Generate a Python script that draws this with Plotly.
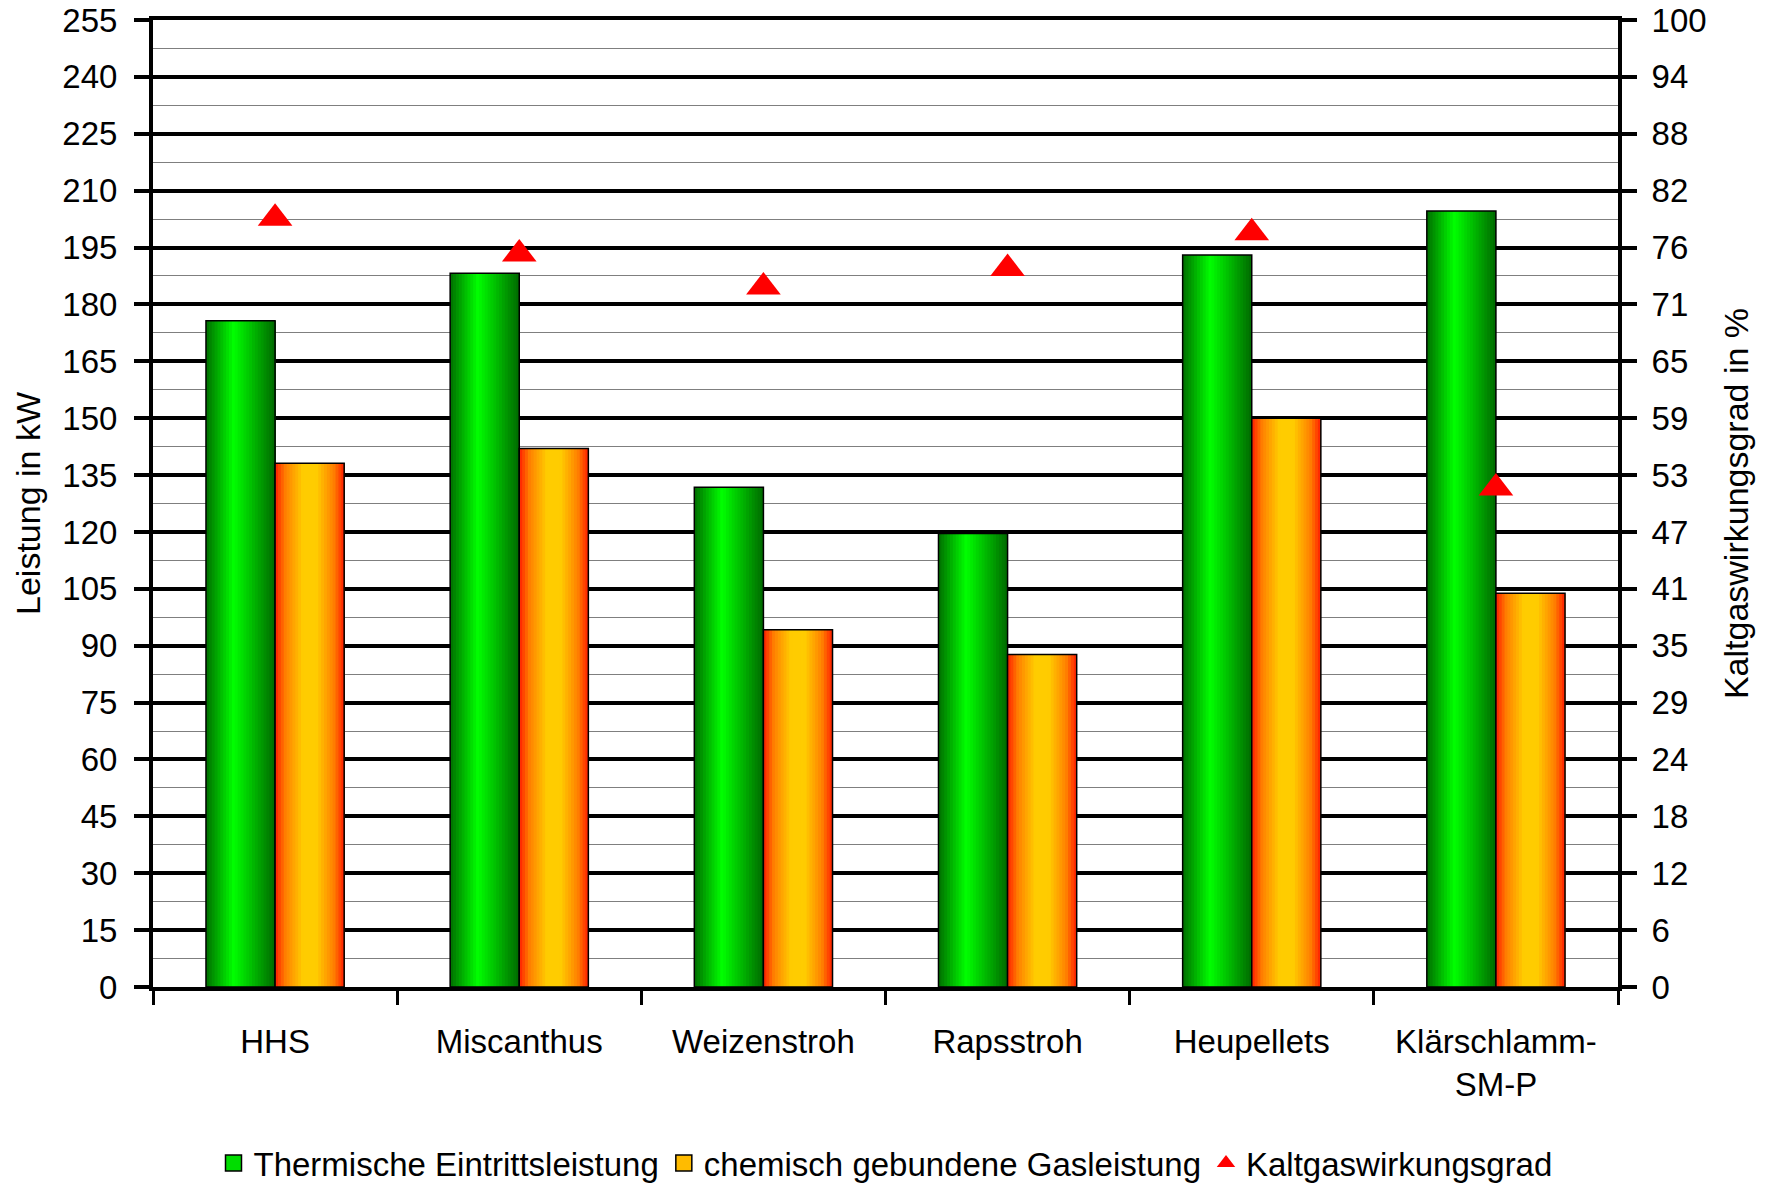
import plotly.graph_objects as go
import numpy as np

categories = ["HHS", "Miscanthus", "Weizenstroh", "Rapsstroh", "Heupellets", "Klärschlamm-<br>SM-P"]
thermische = [175.7, 188.2, 131.8, 119.6, 193.0, 204.6]
chemisch = [138.1, 142.0, 94.2, 87.7, 150.0, 103.8]
kaltgas = [79.5, 75.8, 72.4, 74.3, 78.0, 51.6]
right_tick_labels = ["0", "6", "12", "18", "24", "29", "35", "41", "47", "53", "59", "65", "71", "76", "82", "88", "94", "100"]

FONT = "Arial, 'Liberation Sans', sans-serif"
BAR_W = 0.283
N_SLICES = 24

green_stops = [(0.0, (0, 110, 0)), (0.4, (0, 255, 0)), (1.0, (0, 105, 0))]
orange_stops = [(0.0, (255, 30, 0)), (0.15, (255, 128, 0)), (0.4, (255, 204, 0)),
                (0.6, (255, 204, 0)), (0.85, (255, 128, 0)), (1.0, (255, 30, 0))]


def grad(stops, t):
    for (t0, c0), (t1, c1) in zip(stops[:-1], stops[1:]):
        if t0 <= t <= t1:
            f = (t - t0) / (t1 - t0) if t1 > t0 else 0
            c = [round(a + (b - a) * f) for a, b in zip(c0, c1)]
            return "rgb(%d,%d,%d)" % tuple(c)
    c = stops[-1][1]
    return "rgb(%d,%d,%d)" % c


fig = go.Figure()


def add_series(values, base_offset, stops):
    sw = BAR_W / N_SLICES
    for i in range(N_SLICES):
        t = (i + 0.5) / N_SLICES
        # each slice runs to the bar's right edge; later slices cover earlier ones
        fig.add_trace(go.Bar(x=categories, y=values, width=BAR_W - i * sw, offset=base_offset + i * sw,
                             marker=dict(color=grad(stops, t), line=dict(width=0)),
                             showlegend=False, hoverinfo="skip"))
    fig.add_trace(go.Bar(x=categories, y=values, width=BAR_W, offset=base_offset,
                         marker=dict(color="rgba(0,0,0,0)", line=dict(color="black", width=1.5)),
                         showlegend=False, hoverinfo="skip"))


add_series(thermische, -BAR_W, green_stops)
add_series(chemisch, 0.0, orange_stops)

# legend entries
fig.add_trace(go.Scatter(x=[None], y=[None], mode="markers", name="Thermische Eintrittsleistung",
                         marker=dict(symbol="square", size=22, color="#00dd00",
                                     line=dict(color="black", width=1.5))))
fig.add_trace(go.Scatter(x=[None], y=[None], mode="markers", name="chemisch gebundene Gasleistung",
                         marker=dict(symbol="square", size=22, color="#ffbb00",
                                     line=dict(color="black", width=1.5))))

fig.add_trace(go.Scatter(x=categories, y=kaltgas, name="Kaltgaswirkungsgrad", mode="markers",
                         yaxis="y2",
                         marker=dict(symbol="triangle-up", size=30, color="#ff0000"),
                         showlegend=True))

right_tickvals = list(np.linspace(0, 100, len(right_tick_labels)))

fig.update_layout(
    width=1771, height=1183,
    margin=dict(l=153, r=153, t=20, b=196, autoexpand=False),
    paper_bgcolor="white", plot_bgcolor="white",
    font=dict(family=FONT, size=33, color="black"),
    barmode="overlay",
    showlegend=True,
    legend=dict(orientation="h", x=0.5, xanchor="center", y=-0.182, yanchor="middle",
                font=dict(size=33), itemsizing="trace", traceorder="normal",
                tracegroupgap=0, itemwidth=30),
    xaxis=dict(type="category", categoryorder="array", categoryarray=categories,
               showline=True, linewidth=4, linecolor="black", mirror=True,
               ticks="outside", tickson="boundaries", ticklen=14, tickwidth=3, tickcolor="black",
               tickfont=dict(size=33), ticklabelstandoff=22, showgrid=False, automargin=False),
    yaxis=dict(range=[0, 255], tick0=0, dtick=15, showgrid=True, gridcolor="black", gridwidth=4,
               minor=dict(dtick=7.5, showgrid=True, gridcolor="#7f7f7f", gridwidth=1, ticks=""),
               ticks="outside", ticklen=15, tickwidth=4, tickcolor="black",
               showline=True, linewidth=4, linecolor="black", zeroline=False,
               tickfont=dict(size=33), ticklabelstandoff=10, automargin=False,
               title=dict(text="Leistung in kW", font=dict(size=34), standoff=12)),
    yaxis2=dict(overlaying="y", side="right", range=[0, 100],
                tickmode="array", tickvals=right_tickvals, ticktext=right_tick_labels,
                showgrid=False, zeroline=False,
                ticks="outside", ticklen=15, tickwidth=4, tickcolor="black",
                showline=True, linewidth=4, linecolor="black",
                tickfont=dict(size=33), ticklabelstandoff=8, automargin=False,
                title=dict(text="Kaltgaswirkungsgrad in %", font=dict(size=34), standoff=20)),
)

fig.write_html("out.html")
